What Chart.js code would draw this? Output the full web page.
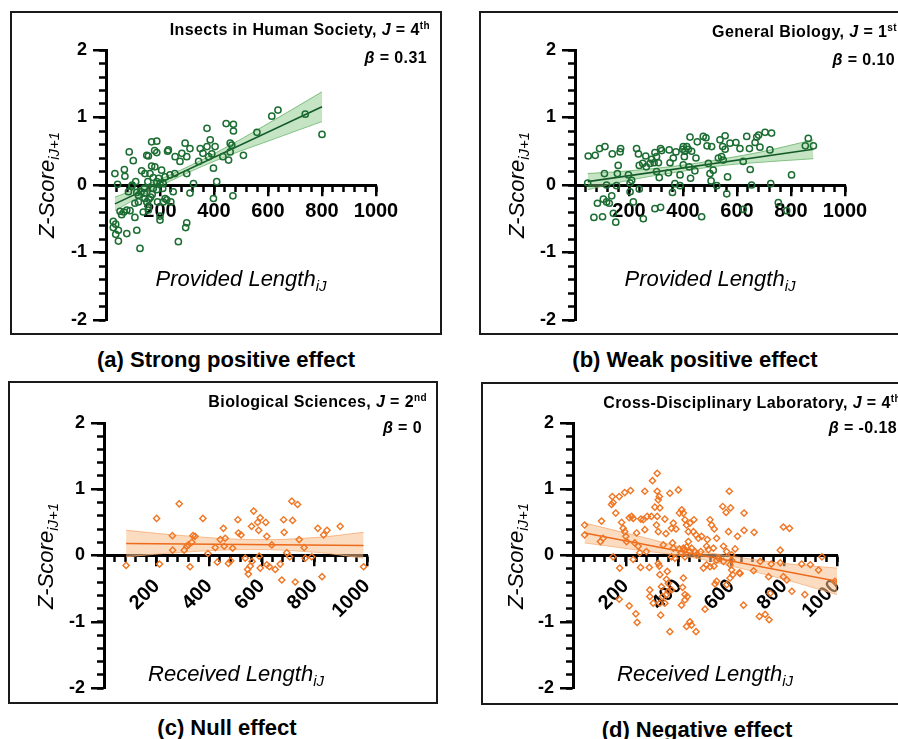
<!DOCTYPE html>
<html>
<head>
<meta charset="utf-8">
<title>Z-Score vs Length</title>
<script src="https://cdn.jsdelivr.net/npm/chart.js@4.4.0/dist/chart.umd.min.js"></script>
<style>
  html, body { margin: 0; padding: 0; width: 898px; height: 739px; overflow: hidden; background: #fff; }
  body { position: relative; font-family: "Liberation Sans", Arial, sans-serif; color: #000; }
  .frame { position: absolute; box-sizing: border-box; border: 2px solid #1a1a1a; }
  canvas { position: absolute; }
  .t { position: absolute; white-space: nowrap; line-height: 1; }
  .hdr { font-size: 16px; font-weight: bold; letter-spacing: 0.4px; transform: translateX(-100%); }
  .sup { font-size: 10px; vertical-align: 6px; line-height: 0; }
  .ytitle { font-size: 22px; font-style: italic; transform: translate(-50%, -50%) rotate(-90deg); }
  .xtitle { font-size: 22px; font-style: italic; transform: translateX(-50%); }
  .sub { font-size: 15px; vertical-align: -5px; line-height: 0; }
  .cap { font-size: 22px; font-weight: bold; transform: translateX(-50%); }
</style>
</head>
<body>

<div class="frame" style="left:10px;top:11px;width:432px;height:324px"></div>
<div class="frame" style="left:479px;top:11px;width:432px;height:324px"></div>
<div class="frame" style="left:8px;top:381px;width:430px;height:323px"></div>
<div class="frame" style="left:481px;top:382px;width:432px;height:323px"></div>

<canvas id="chartA" width="432" height="324" style="left:10px;top:11px"></canvas>
<canvas id="chartB" width="432" height="324" style="left:479px;top:11px"></canvas>
<canvas id="chartC" width="430" height="323" style="left:8px;top:381px"></canvas>
<canvas id="chartD" width="432" height="323" style="left:481px;top:382px"></canvas>

<!-- panel headers -->
<div class="t hdr" style="left:430px;top:21.5px">Insects in Human Society, <i>J</i> = 4<span class="sup">th</span></div>
<div class="t hdr" style="left:427px;top:49.5px"><i>β</i> = 0.31</div>
<div class="t hdr" style="left:897px;top:23.5px">General Biology, <i>J</i> = 1<span class="sup">st</span></div>
<div class="t hdr" style="left:895px;top:51.5px"><i>β</i> = 0.10</div>
<div class="t hdr" style="left:427px;top:393.5px">Biological Sciences, <i>J</i> = 2<span class="sup">nd</span></div>
<div class="t hdr" style="left:422px;top:419.5px"><i>β</i> = 0</div>
<div class="t hdr" style="left:901px;top:394.5px">Cross-Disciplinary Laboratory, <i>J</i> = 4<span class="sup">th</span></div>
<div class="t hdr" style="left:897px;top:419.5px"><i>β</i> = -0.18</div>

<!-- axis titles -->
<div class="t ytitle" style="left:47px;top:185px">Z-Score<span class="sub">iJ+1</span></div>
<div class="t ytitle" style="left:517px;top:185px">Z-Score<span class="sub">iJ+1</span></div>
<div class="t ytitle" style="left:46px;top:556px">Z-Score<span class="sub">iJ+1</span></div>
<div class="t ytitle" style="left:516px;top:556px">Z-Score<span class="sub">iJ+1</span></div>
<div class="t xtitle" style="left:241px;top:268.4px">Provided Length<span class="sub">iJ</span></div>
<div class="t xtitle" style="left:710px;top:268.4px">Provided Length<span class="sub">iJ</span></div>
<div class="t xtitle" style="left:236px;top:663.4px">Received Length<span class="sub">iJ</span></div>
<div class="t xtitle" style="left:705px;top:663.4px">Received Length<span class="sub">iJ</span></div>

<!-- captions -->
<div class="t cap" style="left:226px;top:349.4px">(a) Strong positive effect</div>
<div class="t cap" style="left:695px;top:349.4px">(b) Weak positive effect</div>
<div class="t cap" style="left:227px;top:717.4px">(c) Null effect</div>
<div class="t cap" style="left:697px;top:719.4px">(d) Negative effect</div>

<script>
// ---- data ----
const xMajor = [200, 400, 600, 800, 1000];
const yMajor = [-2, -1, 0, 1, 2];

// (a) Insects in Human Society: [provided length, z-score]
const pointsA = [
  [33,0.17],[43,0.01],[68,0.23],[70,0.13],[86,0.49],[101,0.36],[110,0.05],[97,0.00],[83,-0.10],
  [132,0.21],[144,0.17],[151,0.44],[157,0.43],[169,0.64],[188,0.65],[180,0.51],[188,0.48],[169,0.28],
  [181,0.27],[206,0.22],[163,0.17],[175,0.11],[188,0.05],[200,0.02],[212,0.02],[219,0.12],[228,0.50],
  [200,-0.46],[200,-0.52],[191,-0.25],[157,-0.32],[142,-0.12],[142,-0.05],[130,-0.10],[114,-0.11],
  [120,-0.25],[107,-0.27],[89,-0.38],[77,-0.37],[58,-0.44],[52,-0.39],[66,-0.40],[107,-0.48],[138,-0.40],
  [157,-0.37],[27,-0.54],[36,-0.58],[27,-0.63],[46,-0.67],[36,-0.73],[46,-0.83],[77,-0.72],[114,-0.67],
  [126,-0.94],[225,-0.22],[210,-0.05],[165,-0.18],[95,-0.02],[120,-0.15],[175,-0.05],[195,0.10],[155,0.05],
  [144,-0.20],[151,-0.25],[159,-0.21],[171,-0.14],[188,-0.07],[212,-0.25],[219,-0.20],[249,-0.10],
  [231,0.52],[237,0.15],[240,-0.25],[256,0.42],[255,0.17],[268,-0.84],[274,0.35],[281,0.47],[293,0.62],
  [299,0.42],[299,0.17],[299,-0.56],[295,-0.63],[311,0.54],[311,-0.12],[324,0.02],[343,0.35],[349,0.54],
  [359,0.47],[374,0.84],[374,0.57],[380,0.42],[386,0.67],[392,0.46],[398,0.25],[398,-0.20],[404,0.57],
  [410,0.05],[433,0.42],[445,0.91],[454,0.37],[460,0.49],[460,0.62],[466,0.59],[470,-0.16],[472,0.90],
  [472,0.80],[509,0.44],[559,0.78],[614,1.02],[637,1.11],[738,1.05],[800,0.75]
];
const fitAx = [33, 800];
const fitAy = [-0.28, 1.16];
const bandAx = [33, 150, 300, 450, 600, 800];
const bandAlo = [-0.38, -0.12, 0.175, 0.43, 0.65, 0.94];
const bandAhi = [-0.18, 0.00, 0.265, 0.57, 0.91, 1.38];

// (b) General Biology
const pointsB = [
  [47,0.03],[49,0.43],[75,0.44],[91,0.54],[111,0.57],[109,0.17],[83,-0.27],[105,-0.21],[117,-0.25],
  [127,-0.27],[136,-0.16],[70,-0.48],[102,-0.47],[142,-0.42],[151,-0.55],[117,0.00],[138,0.46],[167,0.49],
  [169,0.54],[160,0.29],[157,0.17],[154,-0.01],[198,0.15],[204,0.03],[210,0.07],[204,-0.10],[216,-0.25],
  [228,0.54],[235,0.46],[238,0.29],[251,0.32],[262,0.43],[264,0.27],[253,-0.50],[238,-0.06],[278,0.32],
  [284,0.38],[293,0.33],[296,0.48],[302,0.42],[309,0.33],[302,0.20],[312,0.11],[296,-0.35],[317,0.54],
  [317,-0.33],[321,0.51],[349,0.52],[352,0.33],[346,0.18],[364,0.40],[374,0.49],[361,-0.11],[370,0.02],
  [389,0.15],[389,-0.01],[399,0.53],[401,0.57],[407,0.50],[414,0.57],[420,0.53],[401,0.30],[405,0.42],
  [423,0.27],[428,0.10],[426,0.71],[432,0.50],[448,0.40],[444,0.21],[453,0.64],[469,-0.47],[475,0.72],
  [485,0.70],[489,0.58],[494,0.32],[500,0.17],[506,0.57],[504,0.06],[512,0.22],[531,0.40],[537,0.67],
  [547,0.57],[543,0.42],[549,0.37],[556,0.73],[556,0.53],[525,-0.01],[562,-0.13],[565,0.12],[574,0.62],
  [596,0.63],[611,0.54],[623,0.35],[636,0.72],[646,0.54],[649,0.23],[654,0.00],[623,-0.36],[667,0.63],
  [673,0.71],[680,0.74],[685,0.56],[704,0.78],[722,0.52],[728,0.77],[725,0.02],[753,-0.26],[784,-0.38],
  [802,0.15],[853,0.58],[864,0.69],[883,0.58]
];
const fitBx = [47, 883];
const fitBy = [0.05, 0.53];
const bandBx = [47, 200, 400, 550, 700, 883];
const bandBlo = [-0.07, 0.07, 0.205, 0.29, 0.34, 0.39];
const bandBhi = [0.17, 0.21, 0.295, 0.39, 0.50, 0.67];

// (c) Biological Sciences: [received length, z-score]
const pointsC = [
  [84,-0.15],[200,0.56],[211,-0.13],[260,0.30],[261,0.08],[286,0.78],[305,0.08],[315,0.14],[321,0.16],
  [327,-0.17],[334,0.20],[338,0.30],[346,0.29],[376,0.56],[395,0.03],[423,0.12],[431,-0.10],[442,0.24],
  [454,0.41],[457,0.14],[461,0.26],[473,-0.12],[482,-0.08],[489,0.11],[509,0.54],[511,0.34],[521,0.31],
  [537,-0.04],[546,-0.21],[549,-0.28],[556,-0.16],[563,-0.09],[561,0.44],[569,0.67],[584,0.50],[588,0.38],
  [594,0.57],[590,-0.01],[594,-0.19],[615,0.50],[619,0.29],[619,-0.14],[629,-0.17],[638,0.16],[651,-0.21],
  [670,-0.13],[676,-0.37],[683,0.54],[685,0.35],[695,0.04],[706,-0.02],[714,0.82],[717,0.53],[727,-0.40],
  [736,0.77],[742,0.24],[761,0.12],[765,-0.04],[790,-0.02],[813,0.41],[829,-0.32],[835,0.31],[848,0.38],
  [898,0.44],[987,-0.17]
];
const fitCx = [84, 987];
const fitCy = [0.18, 0.15];
const bandCx = [84, 300, 560, 800, 987];
const bandClo = [-0.02, 0.05, 0.09, 0.05, -0.04];
const bandChi = [0.38, 0.30, 0.24, 0.27, 0.35];

// (d) Cross-Disciplinary Laboratory
const pointsD = [
  [44,0.46],[44,0.31],[108,0.52],[114,0.26],[104,0.21],[152,-0.02],[149,0.89],[146,0.77],[152,0.80],
  [175,0.89],[196,0.95],[218,0.98],[162,0.64],[184,0.50],[190,0.41],[196,0.36],[200,0.29],[203,0.21],
  [213,0.57],[222,0.59],[228,0.56],[241,0.34],[234,0.19],[247,0.14],[253,0.04],[257,0.55],[266,0.54],
  [272,0.97],[272,0.39],[278,0.06],[281,0.59],[297,0.59],[301,1.13],[319,1.24],[319,0.97],[327,0.89],
  [323,0.84],[310,0.73],[329,0.72],[319,0.59],[316,0.46],[323,0.36],[348,0.55],[352,0.33],[342,0.16],
  [367,0.94],[380,0.49],[373,0.41],[390,0.40],[399,0.99],[403,0.64],[412,0.69],[418,0.64],[424,0.54],
  [430,0.46],[443,0.49],[458,0.54],[437,0.36],[456,0.36],[466,0.31],[475,0.26],[437,0.21],[430,0.13],
  [418,0.11],[424,0.09],[377,0.19],[380,0.11],[373,-0.02],[386,-0.04],[403,0.10],[409,0.04],[424,-0.02],
  [443,0.06],[449,0.11],[462,0.06],[468,0.01],[484,0.06],[487,0.29],[506,0.14],[513,0.09],[509,0.24],
  [519,0.54],[525,0.46],[535,0.40],[544,0.26],[532,0.11],[570,0.14],[582,0.06],[592,0.97],[597,0.72],
  [567,0.74],[580,0.65],[589,0.36],[601,0.01],[614,0.10],[648,0.64],[648,0.38],[646,-0.75],[177,-0.19],
  [228,-0.06],[256,-0.18],[289,-0.18],[323,-0.12],[327,-0.16],[357,-0.24],[329,-0.29],[335,-0.47],
  [354,-0.36],[361,-0.42],[291,-0.52],[291,-0.62],[304,-0.72],[329,-0.72],[339,-0.62],[348,-0.72],
  [332,-0.90],[361,-0.54],[354,-0.59],[373,-0.52],[418,-0.34],[415,-0.48],[411,-0.75],[424,-0.59],
  [424,-0.67],[433,-0.62],[367,-1.15],[430,-1.07],[443,-1.00],[449,-1.05],[466,-1.15],[500,-0.81],
  [494,-0.19],[506,-0.14],[519,-0.17],[534,-0.16],[544,-0.07],[551,-0.04],[570,-0.09],[595,-0.14],
  [601,-0.22],[605,-0.29],[633,-0.27],[595,-0.34],[582,-0.44],[544,-0.39],[538,-0.43],[213,-0.76],
  [238,-0.88],[243,-1.01],[175,-0.66],[686,0.35],[623,0.29],[630,-0.26],[684,-0.23],[709,-0.09],
  [601,-0.07],[741,-0.32],[751,-0.13],[747,-0.57],[785,0.08],[797,0.43],[820,0.41],[785,-0.11],
  [797,-0.32],[810,-0.37],[829,-0.54],[866,-0.13],[899,-0.14],[930,-0.22],[943,-0.02],[878,-0.59],
  [706,-0.92],[728,-0.89],[743,-0.97],[992,-0.39]
];
const fitDx = [44, 1000];
const fitDy = [0.34, -0.39];
const bandDx = [44, 250, 450, 600, 800, 1000];
const bandDlo = [0.19, 0.08, -0.03, -0.16, -0.36, -0.59];
const bandDhi = [0.49, 0.29, 0.09, -0.01, -0.12, -0.19];

// ---- styling ----
const FONT = "'Liberation Sans', Arial, sans-serif";
const GREEN = { dot: '#1b6d32', line: '#145a28', band: 'rgba(125,196,125,0.45)', edge: 'rgba(95,172,95,0.75)', shape: 'circle', r: 3.1, bw: 1.5 };
const ORANGE = { dot: '#f07522', line: '#ec6a1c', band: 'rgba(250,192,142,0.55)', edge: 'rgba(245,165,105,0.75)', shape: 'rectRot', r: 3.1, bw: 1.4 };

// longer ticks at the labelled values
const majorTicks = {
  id: 'majorTicks',
  beforeDatasetsDraw(chart) {
    const { ctx, chartArea } = chart;
    const sx = chart.scales.x, sy = chart.scales.y;
    const align = p => Math.round(p - 1.25) + 1.25;
    const y0 = align(sy.getPixelForValue(0));
    ctx.save();
    ctx.strokeStyle = '#000';
    ctx.lineWidth = 2.5;
    ctx.beginPath();
    xMajor.forEach(v => {
      const px = align(sx.getPixelForValue(v));
      ctx.moveTo(px, y0); ctx.lineTo(px, y0 + 11);
    });
    yMajor.forEach(v => {
      const py = align(sy.getPixelForValue(v));
      ctx.moveTo(chartArea.left, py); ctx.lineTo(chartArea.left - 13, py);
    });
    ctx.stroke();
    ctx.restore();
  }
};

function drawPanel(id, points, fitX, fitY, bandX, bandLo, bandHi, look, box) {
  new Chart(document.getElementById(id), {
    type: 'scatter',
    data: {
      datasets: [
        { type: 'line', data: bandX.map((x, i) => ({ x: x, y: bandLo[i] })), borderColor: look.edge, borderWidth: 1,
          pointRadius: 0, fill: false, tension: 0.4, order: 4 },
        { type: 'line', data: bandX.map((x, i) => ({ x: x, y: bandHi[i] })), borderColor: look.edge, borderWidth: 1,
          pointRadius: 0, fill: '-1', backgroundColor: look.band, tension: 0.4, order: 3 },
        { type: 'line', data: fitX.map((x, i) => ({ x: x, y: fitY[i] })), borderColor: look.line, borderWidth: 1.6,
          pointRadius: 0, fill: false, order: 2 },
        { data: points.map(p => ({ x: p[0], y: p[1] })), pointStyle: look.shape, pointRadius: look.r,
          pointBorderWidth: look.bw, pointBorderColor: look.dot, pointBackgroundColor: 'rgba(255,255,255,0)', order: 1 }
      ]
    },
    options: {
      responsive: false,
      animation: false,
      devicePixelRatio: 1,
      layout: { padding: box.pad },
      plugins: { legend: { display: false }, tooltip: { enabled: false } },
      scales: {
        x: {
          type: 'linear', min: 0, max: 1000, position: { y: 0 },
          border: { color: '#000', width: 3 },
          grid: { drawOnChartArea: false, drawTicks: true, tickLength: 5, tickWidth: 2.5, tickColor: '#000' },
          ticks: {
            stepSize: 40, maxTicksLimit: 30, autoSkip: false, minRotation: box.rot, maxRotation: box.rot,
            padding: box.xPad, color: '#000', font: { family: FONT, size: 20, weight: 'bold' },
            callback: v => xMajor.includes(v) ? String(v) : ''
          },
          afterFit: s => { s.paddingLeft = 0; s.paddingRight = 0; }
        },
        y: {
          type: 'linear', min: -2, max: 2, position: 'left',
          border: { color: '#000', width: 3 },
          grid: { drawOnChartArea: false, drawTicks: true, tickLength: 7, tickWidth: 2.5, tickColor: '#000' },
          ticks: {
            stepSize: 0.2, maxTicksLimit: 30, autoSkip: false, padding: 12, color: '#000',
            font: { family: FONT, size: 18, weight: 'bold' },
            callback: v => { const r = Math.round(v * 100) / 100; return yMajor.includes(r) ? String(r) : ''; }
          },
          afterFit: s => { s.width = box.yw; s.paddingTop = 0; s.paddingBottom = 0; }
        }
      }
    },
    plugins: [majorTicks]
  });
}

drawPanel('chartA', pointsA, fitAx, fitAy, bandAx, bandAlo, bandAhi, GREEN,
  { pad: { left: 0, top: 39, right: 66, bottom: 15 }, yw: 96, rot: 0, xPad: 9 });
drawPanel('chartB', pointsB, fitBx, fitBy, bandBx, bandBlo, bandBhi, GREEN,
  { pad: { left: 0, top: 39, right: 66, bottom: 15 }, yw: 96, rot: 0, xPad: 9 });
drawPanel('chartC', pointsC, fitCx, fitCy, bandCx, bandClo, bandChi, ORANGE,
  { pad: { left: 0, top: 42, right: 71, bottom: 16 }, yw: 96, rot: 45, xPad: 14 });
drawPanel('chartD', pointsD, fitDx, fitDy, bandDx, bandDlo, bandDhi, ORANGE,
  { pad: { left: 0, top: 41, right: 76, bottom: 17 }, yw: 92, rot: 45, xPad: 14 });
</script>
</body>
</html>
